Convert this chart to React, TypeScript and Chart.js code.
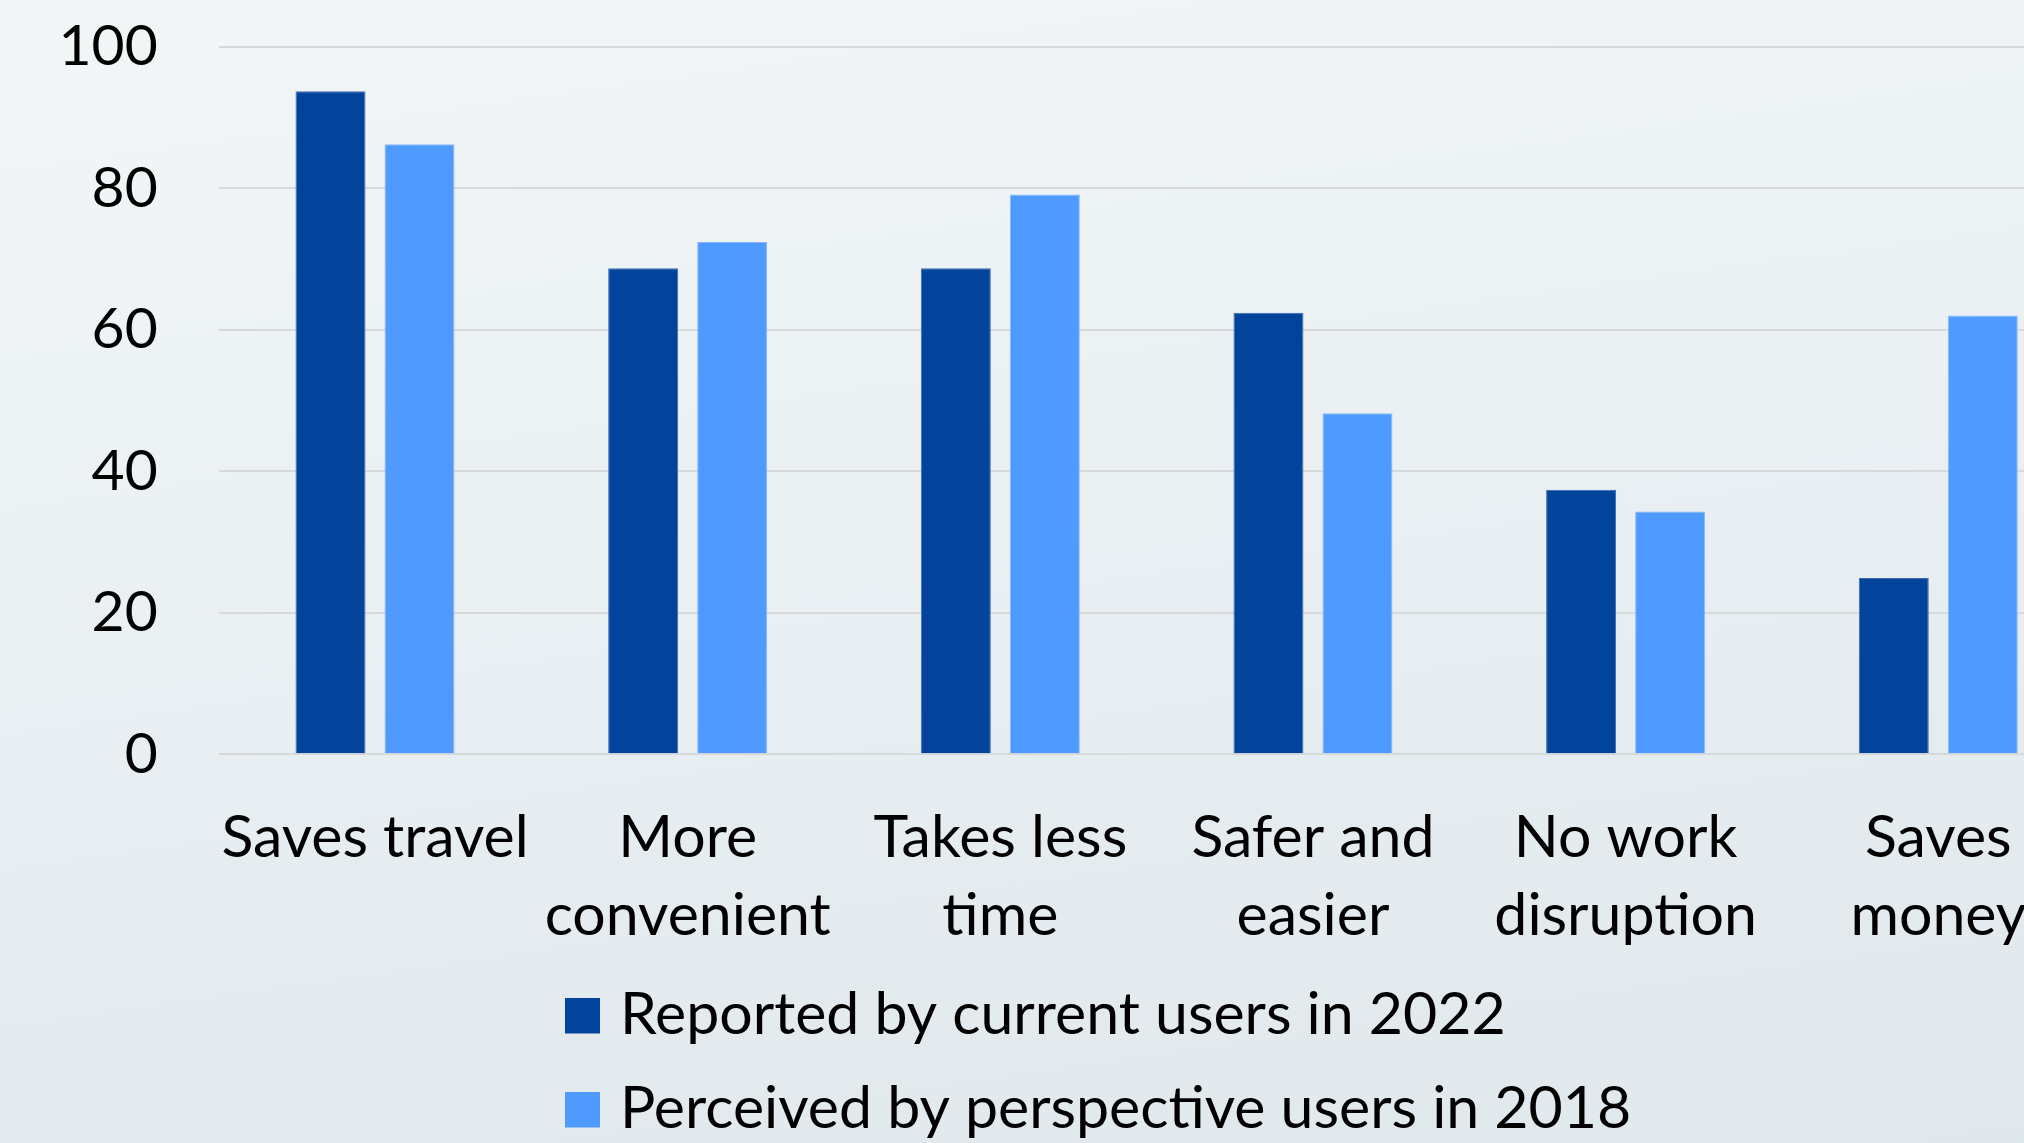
import React, { useEffect, useRef } from "react";
import { Chart, registerables } from "chart.js";

Chart.register(...registerables);

const categories: string[][] = [
  ["Saves travel"],
  ["More", "convenient"],
  ["Takes less", "time"],
  ["Safer and", "easier"],
  ["No work", "disruption"],
  ["Saves", "money"],
];
const seriesNames = [
  "Reported by current users in 2022",
  "Perceived by perspective users in 2018",
];
const reported2022 = [93.7, 68.7, 68.7, 62.4, 37.4, 24.9];
const perceived2018 = [86.2, 72.4, 79.1, 48.2, 34.3, 62.0];
const yTicks = [0, 20, 40, 60, 80, 100];

const FONT = "Lato, 'Open Sans', sans-serif";
const CANVAS_W = 2110;
const CANVAS_H = 1143;

const legendPlugin = {
  id: "stackedLegend",
  afterDraw(chart: any) {
    const ctx = chart.ctx;
    ctx.save();
    ctx.font = `59px ${FONT}`;
    ctx.fillStyle = "#000";
    ctx.textBaseline = "alphabetic";
    ctx.textAlign = "left";
    chart.data.datasets.forEach((ds: any, i: number) => {
      const top = 998 + i * 94;
      ctx.fillStyle = ds.backgroundColor;
      ctx.fillRect(565, top, 35, 35.5);
      ctx.fillStyle = "#000";
      ctx.fillText(ds.label, 620, top + 36);
    });
    ctx.restore();
  },
};

export default function App() {
  const ref = useRef<HTMLCanvasElement>(null);

  useEffect(() => {
    if (!ref.current) return;
    const chart = new Chart(ref.current, {
      type: "bar",
      data: {
        labels: categories,
        datasets: [
          {
            label: seriesNames[0],
            data: reported2022,
            backgroundColor: "#02449C",
            borderColor: "#3d6cb0",
            borderWidth: 1,
            categoryPercentage: 0.5694,
            barPercentage: 0.7865,
          },
          {
            label: seriesNames[1],
            data: perceived2018,
            backgroundColor: "#4E9AFF",
            borderColor: "#86b9ff",
            borderWidth: 1,
            categoryPercentage: 0.5694,
            barPercentage: 0.7865,
          },
        ],
      },
      options: {
        responsive: false,
        animation: false,
        devicePixelRatio: 1,
        layout: {
          padding: { left: 0, top: 46.7, right: 15.4, bottom: 188.7 },
        },
        plugins: {
          legend: { display: false },
          tooltip: { enabled: false },
        },
        scales: {
          x: {
            grid: { display: false, drawTicks: false },
            border: { display: false },
            ticks: {
              color: "#000",
              font: { family: FONT, size: 59, lineHeight: 78.5 / 59 },
              padding: 44,
              maxRotation: 0,
              minRotation: 0,
              autoSkip: false,
            },
            afterFit: (scale: any) => {
              scale.height = 200;
              scale.paddingLeft = 0;
              scale.paddingRight = 0;
            },
          },
          y: {
            min: 0,
            max: 100,
            afterBuildTicks: (scale: any) => {
              scale.ticks = yTicks.map((v) => ({ value: v }));
            },
            grid: {
              color: "#d6d9dc",
              lineWidth: 2,
              drawTicks: false,
            },
            border: { display: false },
            ticks: {
              color: "#000",
              font: { family: FONT, size: 57 },
              padding: 61,
            },
            afterFit: (scale: any) => {
              scale.width = 218.7;
              scale.paddingTop = 0;
              scale.paddingBottom = 0;
            },
          },
        },
      },
      plugins: [legendPlugin],
    });
    return () => chart.destroy();
  }, []);

  return (
    <div
      style={{
        position: "fixed",
        left: 0,
        top: 0,
        width: 2024,
        height: 1143,
        overflow: "hidden",
        background: "linear-gradient(172deg, #f2f6f7 0%, #e9eff2 50%, #dfe8ec 100%)",
      }}
    >
      <canvas
        ref={ref}
        width={CANVAS_W}
        height={CANVAS_H}
        style={{ display: "block", width: CANVAS_W, height: CANVAS_H }}
      />
    </div>
  );
}
